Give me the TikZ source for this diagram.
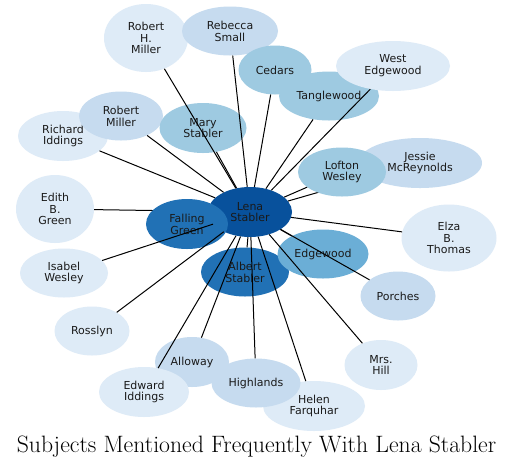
\documentclass[tikz,border=0pt]{standalone}
\usepackage{fontspec}
\newfontfamily\dvs{DejaVu Sans}
\usetikzlibrary{shapes.geometric}
\definecolor{b1}{HTML}{DEEBF7}
\definecolor{b2}{HTML}{C6DBEF}
\definecolor{b3}{HTML}{9ECAE1}
\definecolor{b4}{HTML}{6BAED6}
\definecolor{b5}{HTML}{2171B5}
\definecolor{b6}{HTML}{08519C}
\definecolor{txt}{HTML}{1A1A1A}
\tikzset{
  bub/.style={ellipse, inner sep=0pt, align=center, text=txt,
    font=\dvs\fontsize{11}{11.8}\selectfont},
  edge/.style={draw=black, line width=1pt},
}
\begin{document}
\begin{tikzpicture}[x=1pt,y=-1pt]
\useasboundingbox[fill=white] (0,0) rectangle (513,467);
% nodes
\node[bub, fill=b1, minimum width=84pt, minimum height=68pt] (rhm) at (146,38) {Robert\\H.\\Miller};
\node[bub, fill=b2, minimum width=96pt, minimum height=49pt] (reb) at (230,31) {Rebecca\\Small};
\node[bub, fill=b3, minimum width=73pt, minimum height=49pt] (ced) at (275,70) {Cedars};
\node[bub, fill=b3, minimum width=100pt, minimum height=49pt] (tan) at (329,96) {Tanglewood};
\node[bub, fill=b1, minimum width=114pt, minimum height=50pt] (wed) at (393,66) {West\\Edgewood};
\node[bub, fill=b1, minimum width=90pt, minimum height=50pt] (rid) at (63,136) {Richard\\Iddings};
\node[bub, fill=b2, minimum width=84pt, minimum height=49pt] (rmi) at (121,116) {Robert\\Miller};
\node[bub, fill=b3, minimum width=87pt, minimum height=50pt] (mst) at (203,128) {Mary\\Stabler};
\node[bub, fill=b2, minimum width=124pt, minimum height=50pt] (jes) at (420,163) {Jessie\\McReynolds};
\node[bub, fill=b1, minimum width=78pt, minimum height=68pt] (edi) at (55,209) {Edith\\B.\\Green};
\node[bub, fill=b6, minimum width=84pt, minimum height=50pt] (lena) at (250,212) {Lena\\Stabler};
% the Edith edge lies under Falling Green
\draw[edge] (lena) -- (edi);
\node[bub, fill=b5, minimum width=82pt, minimum height=50pt] (fgr) at (187,224) {Falling\\Green};
\node[bub, fill=b1, minimum width=95pt, minimum height=67pt] (elz) at (449,238) {Elza\\B.\\Thomas};
\node[bub, fill=b1, minimum width=88pt, minimum height=49pt] (isa) at (64,273) {Isabel\\Wesley};
\node[bub, fill=b5, minimum width=88pt, minimum height=49pt] (alb) at (245,272) {Albert\\Stabler};
\node[bub, fill=b4, minimum width=91pt, minimum height=49pt] (edg) at (323,254) {Edgewood};
\node[bub, fill=b2, minimum width=75pt, minimum height=49pt] (por) at (398,296) {Porches};
\node[bub, fill=b1, minimum width=75pt, minimum height=49pt] (ros) at (92,331) {Rosslyn};
\node[bub, fill=b1, minimum width=73pt, minimum height=50pt] (mrh) at (381,365) {Mrs.\\Hill};
\node[bub, fill=b2, minimum width=74pt, minimum height=50pt] (all) at (192,362) {Alloway};
\node[bub, fill=b1, minimum width=102pt, minimum height=50pt] (hel) at (314,406) {Helen\\Farquhar};
\node[bub, fill=b2, minimum width=89pt, minimum height=49pt] (hig) at (256,383) {Highlands};
\node[bub, fill=b1, minimum width=90pt, minimum height=50pt] (edw) at (144,392) {Edward\\Iddings};
% edges
\foreach \n in {rhm,reb,ced,tan,wed,rid,rmi,mst,jes,elz,isa,alb,edg,por,ros,mrh,all,hel,hig,edw}
  \draw[edge] (lena) -- (\n);
% Lofton on top of the Jessie edge
\node[bub, fill=b3, minimum width=88pt, minimum height=49pt] (lof) at (342,172) {Lofton\\Wesley};
\draw[edge] (lena) -- (lof);
% title
\node[anchor=base, inner sep=0pt, font=\fontsize{23.7}{28}\selectfont] (title) at (256.5,452) {Subjects Mentioned Frequently With Lena Stabler};
\end{tikzpicture}
\end{document}
